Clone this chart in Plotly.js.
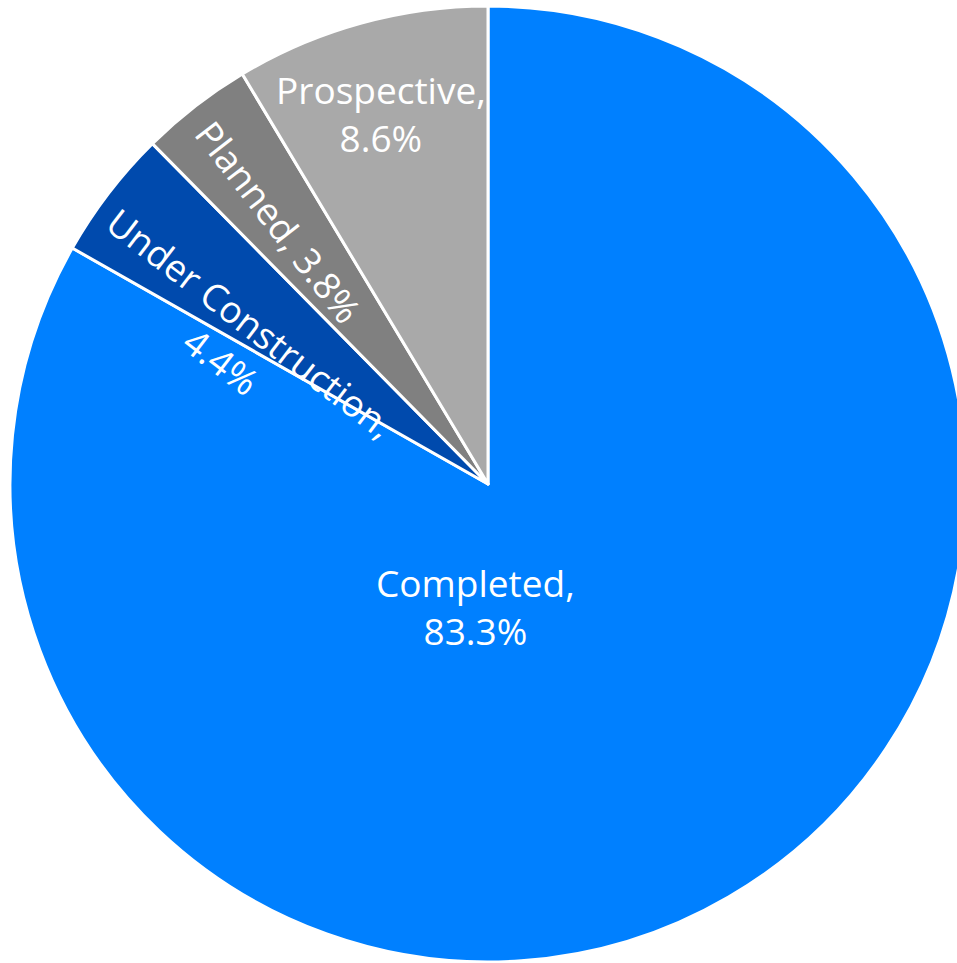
<!DOCTYPE html>
<html>
<head>
<meta charset="utf-8">
<script src="https://cdn.plot.ly/plotly-3.0.1.min.js"></script>
<style>
html, body { margin: 0; padding: 0; overflow: hidden; background: #fff; }
#chart { width: 976px; height: 963px; }
</style>
</head>
<body>
<div id="chart"></div>
<script>
// ---- data ----
const categories = ['Completed', 'Under Construction', 'Planned', 'Prospective'];
const shares = [83.3, 4.4, 3.8, 8.6];
const lineBreakAfterName = [true, true, false, true];

// ---- style ----
const sliceColors = ['#0080FF', '#004AAD', '#808080', '#A9A9A9'];
const W = 976, H = 963, M = { l: 0, r: 0, t: 6, b: 1 };
// label centre positions in page pixels, and whether the label is radial
const labelPx = [[475, 606], [236, 341], [279, 221], [381, 113]];
const labelRadial = [false, true, true, false];
const fontFamily = '"Open Sans", "Segoe UI", Calibri, sans-serif';
const fontSize = 37;

const total = shares.reduce((a, b) => a + b, 0);
let cum = 0;
const annotations = categories.map((name, i) => {
  const start = cum / total * 360;
  cum += shares[i];
  const end = cum / total * 360;
  const mid = (start + end) / 2; // degrees clockwise from 12 o'clock
  // radial text reads from the rim towards the centre
  const ang = labelRadial[i] ? (mid - 270) : 0;
  const txt = name + ',' + (lineBreakAfterName[i] ? '<br>' : ' ') + shares[i].toFixed(1) + '%';
  const [px, py] = labelPx[i];
  return {
    text: txt,
    xref: 'paper', yref: 'paper',
    x: (px - M.l) / (W - M.l - M.r),
    y: 1 - (py - M.t) / (H - M.t - M.b),
    xanchor: 'center', yanchor: 'middle',
    showarrow: false,
    textangle: ang,
    align: 'center',
    font: { family: fontFamily, size: fontSize, color: '#ffffff' }
  };
});

const trace = {
  type: 'pie',
  labels: categories,
  values: shares,
  sort: false,
  direction: 'clockwise',
  rotation: 0,
  marker: { colors: sliceColors, line: { color: '#ffffff', width: 3 } },
  textinfo: 'none',
  hoverinfo: 'label+value',
  showlegend: false
};

const layout = {
  width: W,
  height: H,
  margin: { l: M.l, r: M.r, t: M.t, b: M.b, pad: 0 },
  paper_bgcolor: '#ffffff',
  showlegend: false,
  annotations: annotations
};

Plotly.newPlot('chart', [trace], layout, { displayModeBar: false, staticPlot: true });
</script>
</body>
</html>
